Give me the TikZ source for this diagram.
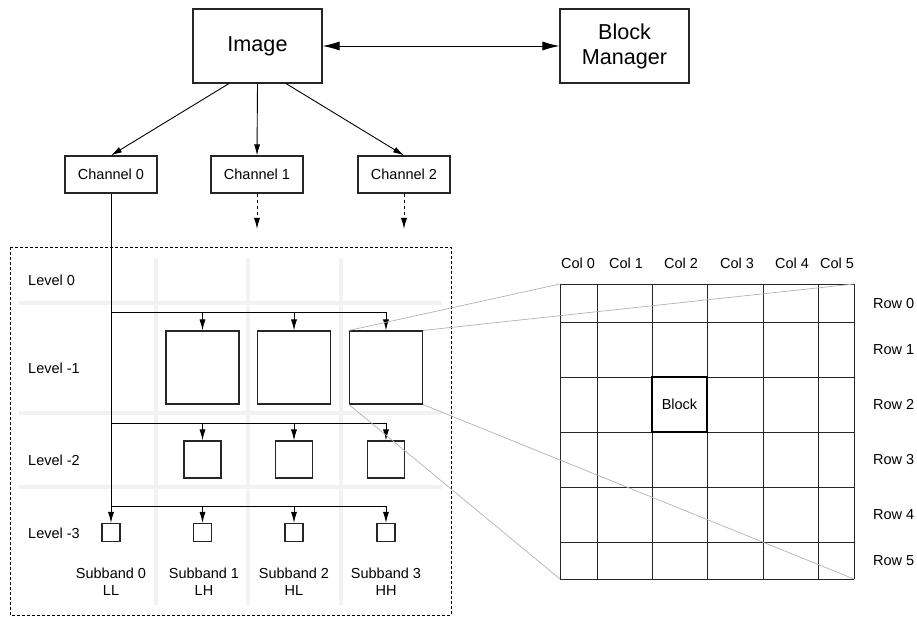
\documentclass[tikz,border=0pt]{standalone}
\usepackage{fontspec}
\setmainfont{Liberation Sans}
\usetikzlibrary{arrows.meta,calc}
\begin{document}
\begin{tikzpicture}[x=1pt,y=-1pt,
  every node/.style={font=\fontsize{14.5}{17}\selectfont, inner sep=0pt},
  box/.style={draw=black!85, line width=1.1pt, rectangle},
  bigbox/.style={box, minimum width=129pt, minimum height=74pt, align=center,
    font=\fontsize{21.6}{25}\selectfont},
  chbox/.style={box, minimum width=92pt, minimum height=37pt},
  sqA/.style={box, minimum width=73pt, minimum height=73pt},
  sqB/.style={box, minimum width=37pt, minimum height=37pt},
  sqC/.style={box, minimum width=18pt, minimum height=18pt},
  conn/.style={line width=0.9pt, black},
  arr/.style={conn, -{Latex[length=11pt,width=6pt]}},
  darr/.style={arr, dash pattern=on 3pt off 3pt},
  sep/.style={line width=3.5pt, black!5},
  proj/.style={line width=0.7pt, black!30},
  gridline/.style={line width=0.9pt, black!85},
  lbl/.style={anchor=west}
]
\useasboundingbox (0,0) rectangle (917,617);

% separators
\foreach \yy in {303,413,487} \draw[sep] (19,\yy) -- (442,\yy);
\foreach \xx in {156,248,341} \draw[sep] (\xx,258) -- (\xx,605);

% dashed frame
\draw[line width=0.9pt, dash pattern=on 3pt off 2pt] (10,247) rectangle (451,615);

% top nodes
\node[bigbox] (img) at (257.5,46) {Image};
\node[bigbox] (bm) at (624.5,46) {Block\\Manager};
\draw[conn, {Latex[length=17pt,width=9pt]}-{Latex[length=17pt,width=9pt]}] (img.east) -- (bm.west);

\node[chbox] (ch0) at (111,174.5) {Channel 0};
\node[chbox] (ch1) at (257,174.5) {Channel 1};
\node[chbox] (ch2) at (404,174.5) {Channel 2};

\draw[arr] ([xshift=-28.5pt]img.south) -- (ch0.north);
\draw[arr] (img.south) -- (ch1.north);
\draw[arr] ([xshift=28.5pt]img.south) -- (ch2.north);

\coordinate (d1) at (257,229);
\coordinate (d2) at (404,229);
\draw[darr] (ch1.south) -- (d1);
\draw[darr] (ch2.south) -- (d2);

% level labels
\node[lbl] (lv0) at (28,280) {Level 0};
\node[lbl] (lv1) at (28,368) {Level -1};
\node[lbl] (lv2) at (28,460) {Level -2};
\node[lbl] (lv3) at (28,533) {Level -3};

% level boxes
\node[sqA] (a1) at (202.5,367.5) {};
\node[sqA] (a2) at (294,367.5) {};
\node[sqA] (a3) at (386,367.5) {};
\node[sqB] (b1) at (202.5,459.5) {};
\node[sqB] (b2) at (294,459.5) {};
\node[sqB] (b3) at (386,459.5) {};
\node[sqC] (c0) at (111,532.5) {};
\node[sqC] (c1) at (202.5,532.5) {};
\node[sqC] (c2) at (294,532.5) {};
\node[sqC] (c3) at (386,532.5) {};

% tree
\draw[arr] (ch0.south) -- (c0.north);
\draw[conn] (ch0.south |- 0,312) -- (a3.north |- 0,312);
\foreach \n in {a1,a2,a3} \draw[arr] (\n.north |- 0,312) -- (\n.north);
\draw[conn] (ch0.south |- 0,423) -- (b3.north |- 0,423);
\foreach \n in {b1,b2,b3} \draw[arr] (\n.north |- 0,423) -- (\n.north);
\draw[conn] (ch0.south |- 0,506) -- (c3.north |- 0,506);
\foreach \n in {c1,c2,c3} \draw[arr] (\n.north |- 0,506) -- (\n.north);

% subband labels
\node[align=center] (s0) at (111,582) {Subband 0\\LL};
\node[align=center] (s1) at (204,582) {Subband 1\\LH};
\node[align=center] (s2) at (294,582) {Subband 2\\HL};
\node[align=center] (s3) at (386,582) {Subband 3\\HH};

% grid
\coordinate (gtl) at (560,284);
\coordinate (gtr) at (854,284);
\coordinate (gbl) at (560,579);
\coordinate (gbr) at (854,579);
\foreach \xx in {560,597,652,707,763,818,854} \draw[gridline] (\xx,284) -- (\xx,579);
\foreach \yy in {284,322,377,432,487,542,579} \draw[gridline] (560,\yy) -- (854,\yy);
\node[draw=black, line width=1.3pt, minimum width=55pt, minimum height=55pt] (blk) at (679.5,404.5) {Block};

% projection lines
\draw[proj] (a3.north west) -- (gtl);
\draw[proj] (a3.north east) -- (gtr);
\draw[proj] (a3.south east) -- (gbr);
\draw[proj] (a3.south west) -- (gbl);

% column / row labels
\node (col0) at (578,263) {Col 0};
\node (col1) at (626,263) {Col 1};
\node (col2) at (681,263) {Col 2};
\node (col3) at (737,263) {Col 3};
\node (col4) at (792,263) {Col 4};
\node (col5) at (837,263) {Col 5};
\node[lbl] (row0) at (873,304) {Row 0};
\node[lbl] (row1) at (873,350) {Row 1};
\node[lbl] (row2) at (873,405) {Row 2};
\node[lbl] (row3) at (873,460) {Row 3};
\node[lbl] (row4) at (873,515) {Row 4};
\node[lbl] (row5) at (873,561) {Row 5};
\end{tikzpicture}
\end{document}
